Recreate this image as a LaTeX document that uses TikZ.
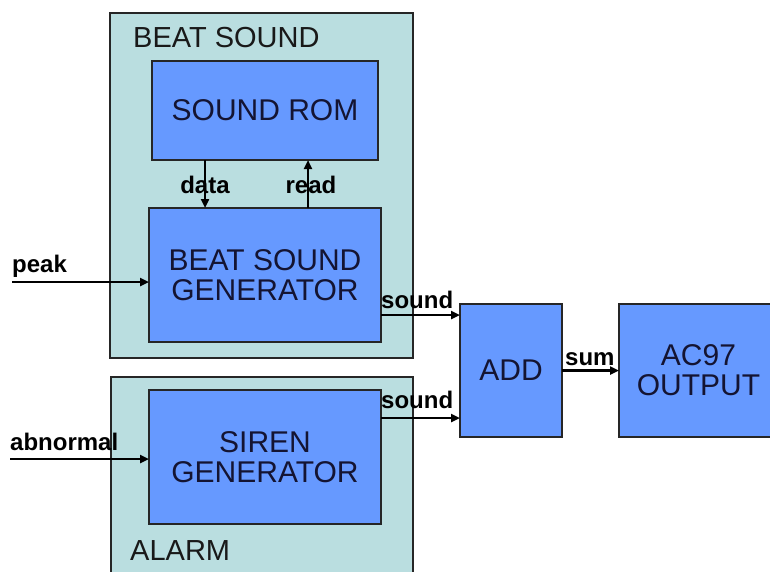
\documentclass[tikz,border=0pt]{standalone}
\usepackage{fontspec}
\setmainfont{Liberation Sans}
\usetikzlibrary{arrows.meta}
\definecolor{tealbg}{RGB}{186,222,224}
\definecolor{blockblue}{RGB}{102,153,255}
\definecolor{txtdark}{RGB}{20,20,50}
\tikzset{
  grp/.style={draw=black!85, line width=1.3pt, fill=tealbg, rectangle, inner sep=0pt, outer sep=0pt},
  blk/.style={draw=black!85, line width=1.3pt, fill=blockblue, rectangle, inner sep=0pt, outer sep=0pt,
    align=center, text=txtdark, font=\fontsize{30}{30}\selectfont},
  grplabel/.style={inner sep=0pt, text=black!90, font=\fontsize{29}{31}\selectfont},
  sig/.style={inner sep=0pt, text=black, font=\bfseries\fontsize{24}{26}\selectfont},
  arr/.style={line width=2.8pt, black, -{Triangle[length=9pt,width=8pt]}}
}
\begin{document}
\begin{tikzpicture}[x=1pt,y=-1pt]
\fill[white] (0,0) rectangle (770,571);
\useasboundingbox (0,0) rectangle (770,571);
\clip (0,0) rectangle (770,571);
% group boxes
\node[grp, minimum width=303pt, minimum height=345pt] (beat) at (261.5,185.5) {};
\node[grp, minimum width=302pt, minimum height=214pt] (alarm) at (262,484) {};
\node[grplabel, anchor=base west] (beatlbl) at (133,47) {BEAT SOUND};
\node[grplabel, anchor=base west] (alarmlbl) at (130,560) {ALARM};
% blocks
\node[blk, minimum width=226pt, minimum height=99pt] (rom) at (265,110.5) {SOUND ROM};
\node[blk, minimum width=232pt, minimum height=134pt] (bsg) at (265,275) {BEAT SOUND\\GENERATOR};
\node[blk, minimum width=232pt, minimum height=134pt] (siren) at (265,457) {SIREN\\GENERATOR};
\node[blk, minimum width=102pt, minimum height=133pt] (add) at (511,370.5) {ADD};
\node[blk, minimum width=159pt, minimum height=133pt] (ac97) at (698.5,370.5) {AC97\\OUTPUT};
% signal labels
\node[sig, anchor=base] (datalbl) at (205,193) {data};
\node[sig, anchor=base] (readlbl) at (311,193) {read};
\node[sig, anchor=base west] (peaklbl) at (12,272) {peak};
\node[sig, anchor=base west] (abnlbl) at (10,450) {abnormal};
\node[sig, anchor=base west] (snd1lbl) at (381,308) {sound};
\node[sig, anchor=base west] (snd2lbl) at (381,408) {sound};
\node[sig, anchor=base west] (sumlbl) at (565,365) {sum};
% connectors
\coordinate (pk) at (12,282);
\coordinate (ab) at (10,459);
\coordinate (s1) at ([yshift=-40pt]bsg.east);
\coordinate (s2) at ([yshift=39pt]siren.east);
\draw[arr] ([xshift=-60pt]rom.south) -- ([xshift=-60pt]bsg.north);
\draw[arr] ([xshift=43pt]bsg.north) -- ([xshift=43pt]rom.south);
\draw[arr] (pk) -- (pk -| bsg.west);
\draw[arr] (ab) -- (ab -| siren.west);
\draw[arr] (s1) -- (s1 -| add.west);
\draw[arr] (s2) -- (s2 -| add.west);
\draw[arr] (add.east) -- (ac97.west);
\end{tikzpicture}
\end{document}
